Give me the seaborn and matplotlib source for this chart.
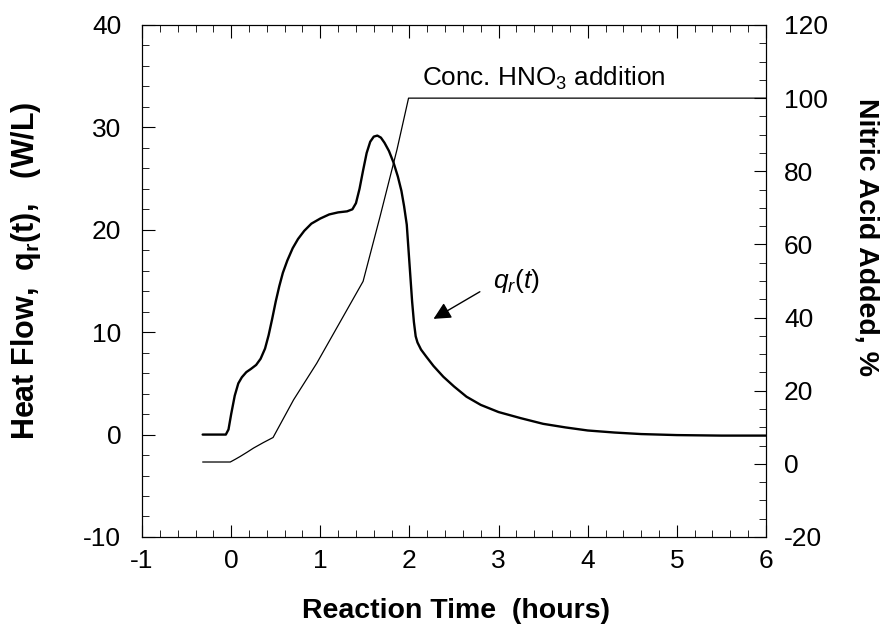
import matplotlib
matplotlib.use("Agg")
import matplotlib.pyplot as plt
from matplotlib.ticker import MultipleLocator
import pandas as pd
import seaborn as sns

# ── Data ──────────────────────────────────────────────────────────────────────
heat_time = [-0.32, -0.06, -0.03, 0.0, 0.04, 0.08, 0.12, 0.17, 0.22, 0.28,
             0.33, 0.38, 0.42, 0.46, 0.50, 0.54, 0.58, 0.63, 0.69, 0.75,
             0.82, 0.90, 1.0, 1.1, 1.2, 1.3, 1.36, 1.40, 1.44, 1.48,
             1.52, 1.56, 1.60, 1.64, 1.68, 1.72, 1.77, 1.82, 1.87, 1.91,
             1.94, 1.97, 1.99, 2.01, 2.03, 2.05, 2.07, 2.09, 2.13, 2.19,
             2.27, 2.38, 2.5, 2.64, 2.8, 3.0, 3.25, 3.5, 3.75, 4.0,
             4.3, 4.6, 5.0, 5.5, 6.0]
heat_flow = [0.0, 0.0, 0.5, 2.0, 3.8, 5.0, 5.6, 6.1, 6.4, 6.8,
             7.4, 8.4, 9.7, 11.3, 13.0, 14.5, 15.8, 17.0, 18.2, 19.1,
             19.9, 20.6, 21.1, 21.5, 21.7, 21.8, 22.0, 22.6, 24.0, 25.8,
             27.5, 28.6, 29.1, 29.2, 29.0, 28.5, 27.7, 26.6, 25.2, 23.8,
             22.3, 20.5, 18.0, 15.5, 13.0, 11.0, 9.6, 9.0, 8.3, 7.6,
             6.7, 5.65, 4.7, 3.7, 2.9, 2.2, 1.6, 1.05, 0.7, 0.4,
             0.2, 0.05, -0.05, -0.1, -0.1]

acid_time = [-0.32, -0.01, 0.05, 0.10, 0.18, 0.25, 0.36, 0.47, 0.70, 0.96,
             1.48, 1.67, 1.86, 1.99, 6.0]
acid_added = [0.5, 0.5, 1.3, 2.0, 3.2, 4.3, 5.8, 7.2, 17.5, 27.5,
              49.9, 67.6, 85.9, 100.0, 100.0]

heat_df = pd.DataFrame({"time": heat_time, "q": heat_flow})
acid_df = pd.DataFrame({"time": acid_time, "acid": acid_added})

# ── Style ─────────────────────────────────────────────────────────────────────
sns.set_style("ticks")
plt.rcParams["font.family"] = ["Liberation Sans", "DejaVu Sans"]
plt.rcParams["mathtext.fontset"] = "custom"
plt.rcParams["mathtext.rm"] = "Liberation Sans"
plt.rcParams["mathtext.it"] = "Liberation Sans:italic"
plt.rcParams["mathtext.bf"] = "Liberation Sans:bold"
plt.rcParams["axes.unicode_minus"] = False
for key in ("text.color", "axes.labelcolor", "xtick.color", "ytick.color",
            "axes.edgecolor"):
    plt.rcParams[key] = "black"

fig = plt.figure(figsize=(8.85, 6.36), dpi=100)
ax = fig.add_axes([0.1605, 0.1557, 0.705, 0.805])
ax2 = ax.twinx()

sns.lineplot(data=heat_df, x="time", y="q", ax=ax, color="black",
             linewidth=1.7, sort=False)
sns.lineplot(data=acid_df, x="time", y="acid", ax=ax2, color="black",
             linewidth=0.9, sort=False)

ax.set_xlim(-1, 6)
ax.set_ylim(-10, 40)
ax2.set_ylim(-20, 120)

ax.xaxis.set_major_locator(MultipleLocator(1))
ax.xaxis.set_minor_locator(MultipleLocator(0.2))
ax.yaxis.set_major_locator(MultipleLocator(10))
ax.yaxis.set_minor_locator(MultipleLocator(2))
ax2.yaxis.set_major_locator(MultipleLocator(20))
ax2.yaxis.set_minor_locator(MultipleLocator(5))

# inward ticks on all four sides
ax.tick_params(axis="x", which="both", direction="in", top=True, labelsize=19, pad=9)
ax.tick_params(axis="y", which="both", direction="in", labelsize=19, pad=15)
ax2.tick_params(axis="y", which="both", direction="in", labelsize=19, pad=13)
for a in (ax, ax2):
    a.tick_params(which="major", length=9, width=0.8)
    a.tick_params(which="minor", length=5, width=0.6)
    for s in a.spines.values():
        s.set_linewidth(0.8)

ax.set_xlabel("Reaction Time  (hours)", fontsize=20.5, fontweight="bold")
ax.set_ylabel(r"Heat Flow,  q$_\mathbf{r}$(t),   (W/L)", fontsize=22, fontweight="bold")
ax2.set_ylabel("Nitric Acid Added, %", fontsize=20.5, fontweight="bold", rotation=270)
ax.xaxis.set_label_coords(0.503, -0.12)
ax.yaxis.set_label_coords(-0.158, 0.52)
ax2.yaxis.set_label_coords(1.182, 0.585)

# annotations
ax.text(2.14, 34.1, r"Conc. HNO$_3$ addition", fontsize=18.8, va="baseline", ha="left")
ax.text(2.94, 14.3, r"$q_r(t)$", fontsize=19, va="baseline", ha="left")
ax.annotate("", xy=(2.27, 11.3), xytext=(2.79, 13.95),
            arrowprops=dict(arrowstyle="-|>", color="black", lw=1.0,
                            mutation_scale=26, shrinkA=0, shrinkB=0))

fig.savefig("out.png", dpi=100)
